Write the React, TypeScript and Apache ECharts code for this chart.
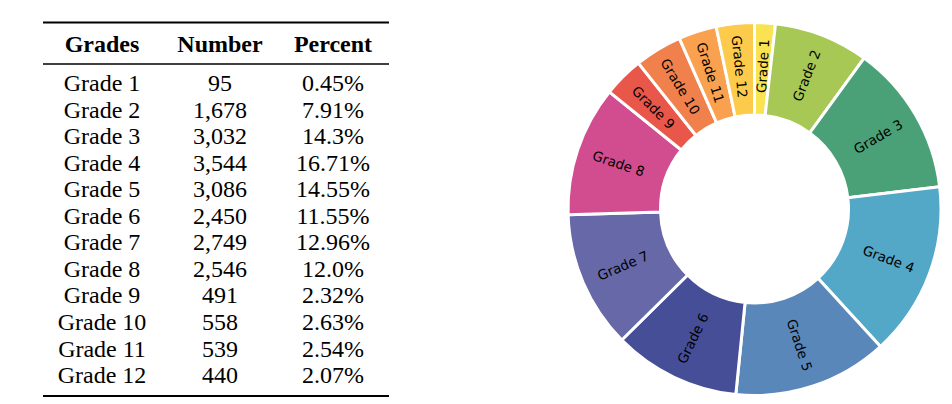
import React, { useEffect, useRef } from "react";
import * as echarts from "echarts";

// Table data
const grades = ["Grade 1", "Grade 2", "Grade 3", "Grade 4", "Grade 5", "Grade 6", "Grade 7", "Grade 8", "Grade 9", "Grade 10", "Grade 11", "Grade 12"];
const numbers = [95, 1678, 3032, 3544, 3086, 2450, 2749, 2546, 491, 558, 539, 440];
const percents = ["0.45%", "7.91%", "14.3%", "16.71%", "14.55%", "11.55%", "12.96%", "12.0%", "2.32%", "2.63%", "2.54%", "2.07%"];
const headers = ["Grades", "Number", "Percent"];

// Donut slice shares (%) as drawn in the picture
const pieShares = [1.8, 8.2, 13.1, 15.1, 13.4, 11.0, 11.9, 11.3, 3.5, 4.1, 3.3, 3.3];
const colors = ["#F9E350", "#A8C856", "#4AA177", "#53A7C7", "#5A87BA", "#454E97", "#6768A8", "#D24D90", "#E9574A", "#F1814C", "#F9A14E", "#FDCB4C"];

const fmt = (n: number) => n.toLocaleString("en-US");

export default function App() {
  const ref = useRef<HTMLDivElement>(null);
  useEffect(() => {
    document.body.style.margin = "0";
    const chart = echarts.init(ref.current!, null, { renderer: "svg" });
    const colX = [102, 220, 333];
    const serif = "Liberation Serif, Times New Roman, serif";
    const textEl = (t: string, x: number, y: number, bold = false) => ({
      type: "text",
      x,
      y,
      style: {
        text: t,
        fill: "#000",
        fontFamily: serif,
        fontSize: 24,
        fontWeight: bold ? "bold" : "normal",
        textAlign: "center",
        textVerticalAlign: "middle",
        align: "center",
        verticalAlign: "middle",
      },
    });
    const elements: any[] = [];
    headers.forEach((h, i) => elements.push(textEl(h, colX[i], 44, true)));
    grades.forEach((g, i) => {
      const y = 83 + i * 26.55;
      elements.push(textEl(g, colX[0], y));
      elements.push(textEl(fmt(numbers[i]), colX[1], y));
      elements.push(textEl(percents[i], colX[2], y));
    });
    elements.push({ type: "line", shape: { x1: 43, y1: 22.5, x2: 389, y2: 22.5 }, style: { stroke: "#000", lineWidth: 2 } });
    elements.push({ type: "line", shape: { x1: 43, y1: 64, x2: 389, y2: 64 }, style: { stroke: "#000", lineWidth: 1.3 } });
    elements.push({ type: "line", shape: { x1: 43, y1: 396, x2: 389, y2: 396 }, style: { stroke: "#000", lineWidth: 2 } });

    chart.setOption({
      animation: false,
      graphic: { elements },
      series: [
        {
          type: "pie",
          center: [754.5, 209],
          radius: [94, 186.5],
          startAngle: 90,
          clockwise: true,
          avoidLabelOverlap: false,
          itemStyle: { borderColor: "#fff", borderWidth: 3 },
          label: {
            show: true,
            position: "inside",
            rotate: "radial",
            color: "#000",
            fontFamily: "DejaVu Sans",
            fontSize: 13.5,
            formatter: "{b}",
          },
          labelLine: { show: false },
          emphasis: { disabled: true },
          data: grades.map((g, i) => ({
            name: g,
            value: pieShares[i],
            itemStyle: { color: colors[i] },
          })),
        },
      ],
    });
    return () => chart.dispose();
  }, []);
  return <div ref={ref} style={{ width: 952, height: 404 }} />;
}
